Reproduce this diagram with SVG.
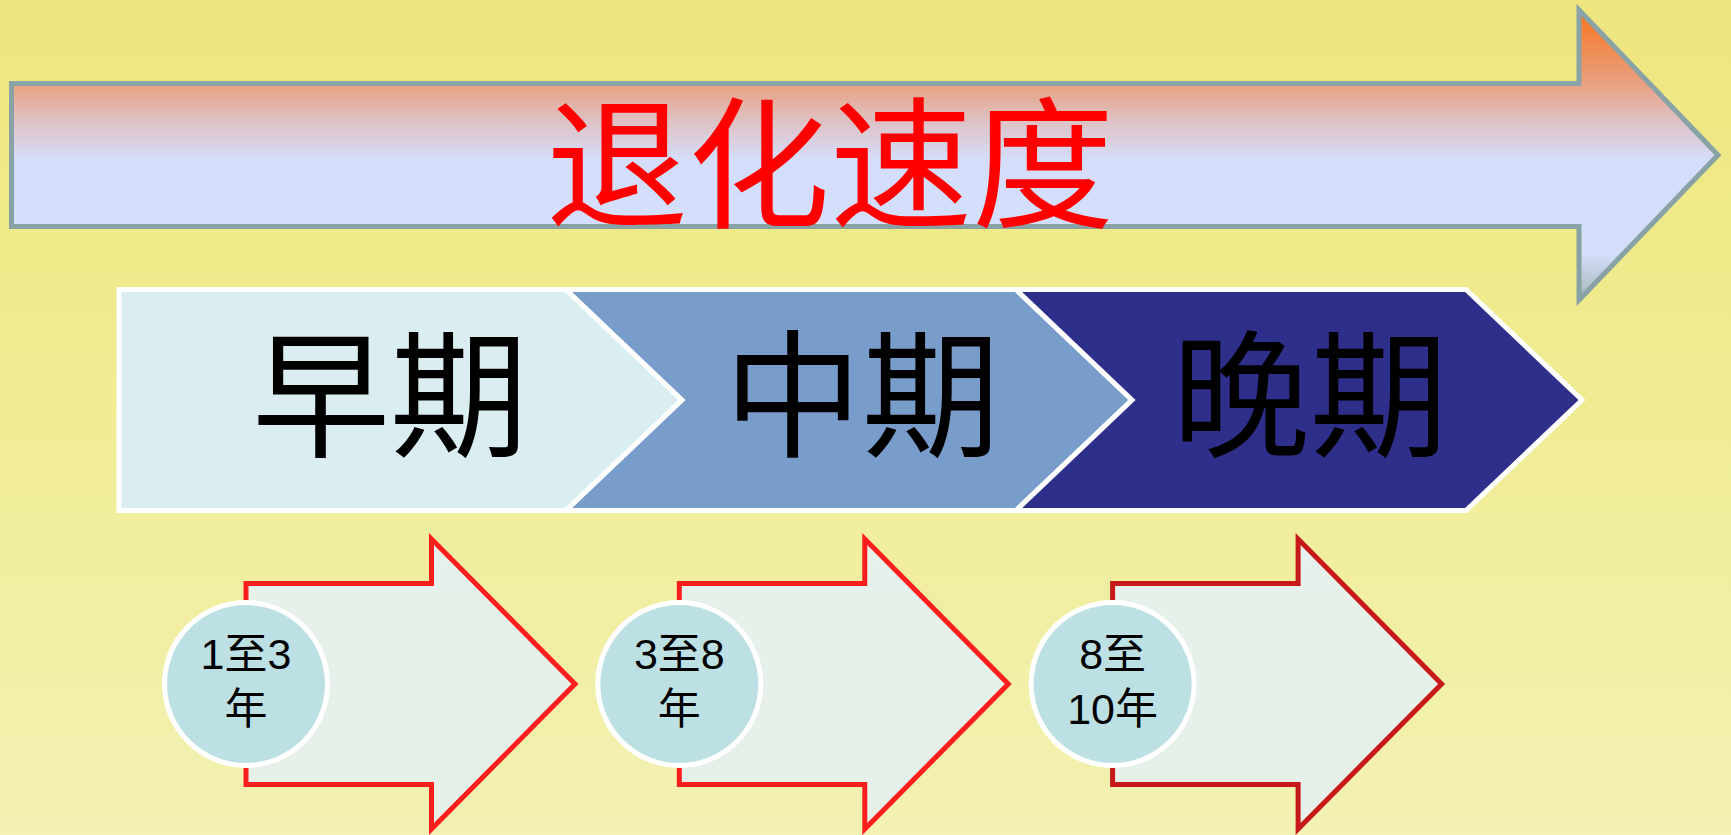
<svg xmlns="http://www.w3.org/2000/svg" width="1731" height="835" viewBox="0 0 1731 835">
  <defs>
    <linearGradient id="bg" x1="0" y1="0" x2="0" y2="835" gradientUnits="userSpaceOnUse">
      <stop offset="0" stop-color="#EEE57F"/>
      <stop offset="0.35" stop-color="#EFEB8C"/>
      <stop offset="1" stop-color="#F3F1B3"/>
    </linearGradient>
    <linearGradient id="bigGrad" x1="0" y1="10" x2="0" y2="300" gradientUnits="userSpaceOnUse">
      <stop offset="0" stop-color="#F8741E"/>
      <stop offset="0.26" stop-color="#E8A283"/>
      <stop offset="0.39" stop-color="#DEC3C8"/>
      <stop offset="0.52" stop-color="#D4DEFA"/>
      <stop offset="0.84" stop-color="#D4DFFC"/>
      <stop offset="1" stop-color="#A6B6B5"/>
    </linearGradient>
    <linearGradient id="smallFill" x1="0" y1="0" x2="0" y2="1">
      <stop offset="0" stop-color="#E7F1EB"/>
      <stop offset="1" stop-color="#E6F0E9"/>
    </linearGradient>
  </defs>
  <style>
    .chev { stroke: #FFFFFF; stroke-width: 5; stroke-linejoin: miter; }
    .phase { font-family: "Noto Sans CJK SC", "Noto Sans CJK TC", sans-serif; font-size: 138px; fill: #000000; text-anchor: middle; }
    .title { font-family: "Noto Sans CJK SC", "Noto Sans CJK TC", sans-serif; font-size: 142px; fill: #FF0000; text-anchor: middle; }
    .small { fill: url(#smallFill); stroke-width: 5; stroke-linejoin: miter; }
    .circ { fill: #BCE0E4; stroke: #FFFFFF; stroke-width: 5; }
    .yr { font-family: "Liberation Sans", "Noto Sans CJK SC", sans-serif; font-size: 43px; fill: #000000; text-anchor: middle; }
  </style>

  <rect x="0" y="0" width="1731" height="835" fill="url(#bg)"/>

  <g id="speed-arrow">
    <path d="M11.5,83.5 L1579,83.5 L1579,10 L1718,155 L1579,300 L1579,226.5 L11.5,226.5 Z" fill="url(#bigGrad)" stroke="#88A2A5" stroke-width="5"/>
    <text class="title" x="830" y="217">退化速度</text>
  </g>

  <g id="stage-early">
    <path class="chev" d="M119,289.5 L566,289.5 L682,400 L566,510.5 L119,510.5 Z" fill="#DAEDF0"/>
    <text class="phase" x="390" y="446">早期</text>
  </g>
  <g id="stage-middle">
    <path class="chev" d="M566,289.5 L1016,289.5 L1132,400 L1016,510.5 L566,510.5 L682,400 Z" fill="#789DCB"/>
    <text class="phase" x="862" y="446">中期</text>
  </g>
  <g id="stage-late">
    <path class="chev" d="M1016,289.5 L1466,289.5 L1582,400 L1466,510.5 L1016,510.5 L1132,400 Z" fill="#2E2F8A"/>
    <text class="phase" x="1310" y="446">晚期</text>
  </g>

  <g id="years-1">
    <path class="small" stroke="#FF1E1E" d="M246,583.5 L431.5,583.5 L431.5,539 L575,684 L431.5,829 L431.5,784.5 L246,784.5 Z"/>
    <circle class="circ" cx="246" cy="684" r="81.5"/>
    <text class="yr" x="246" y="669">1至3</text>
    <text class="yr" x="246" y="724">年</text>
  </g>
  <g id="years-2">
    <path class="small" stroke="#FF1E1E" d="M679.3,583.5 L864.8,583.5 L864.8,539 L1008.3,684 L864.8,829 L864.8,784.5 L679.3,784.5 Z"/>
    <circle class="circ" cx="679.3" cy="684" r="81.5"/>
    <text class="yr" x="679.3" y="669">3至8</text>
    <text class="yr" x="679.3" y="724">年</text>
  </g>
  <g id="years-3">
    <path class="small" stroke="#C8191A" d="M1112.6,583.5 L1298.1,583.5 L1298.1,539 L1441.6,684 L1298.1,829 L1298.1,784.5 L1112.6,784.5 Z"/>
    <circle class="circ" cx="1112.6" cy="684" r="81.5"/>
    <text class="yr" x="1112.6" y="669">8至</text>
    <text class="yr" x="1112.6" y="724">10年</text>
  </g>

  <g id="connectors"></g>
</svg>
